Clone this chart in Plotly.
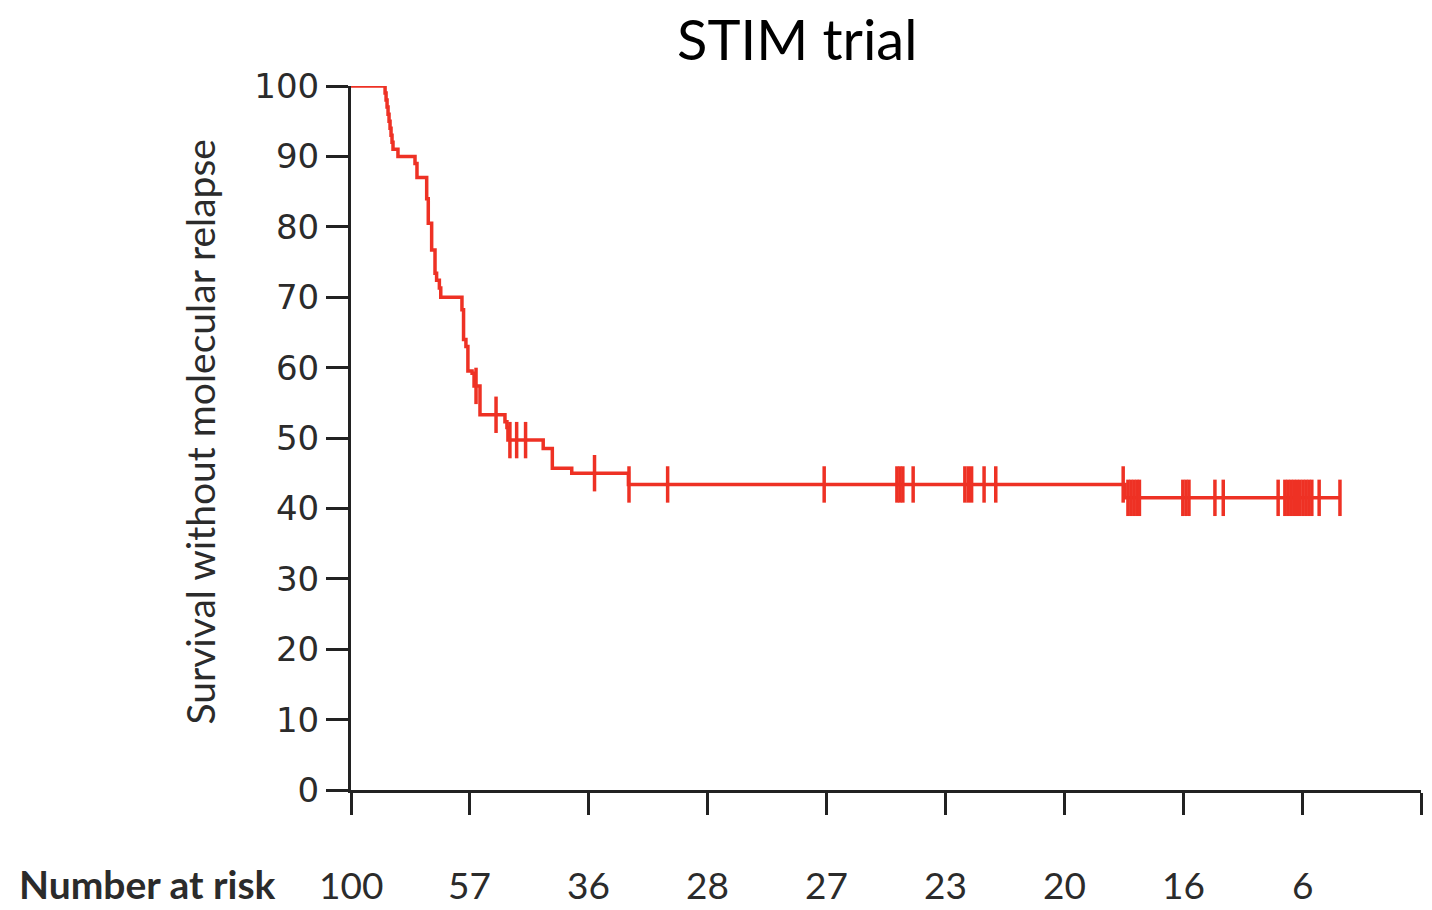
import numpy as np
import plotly.graph_objects as go

# Kaplan-Meier steps: month of each drop and survival (%) right after it
event_months = [1.72, 1.77, 1.82, 1.87, 1.92, 1.97, 2.02, 2.07, 2.12, 2.37,
                3.23, 3.33, 3.82, 3.90, 4.07, 4.24, 4.32, 4.46, 4.53,
                5.60, 5.68, 5.80, 5.90, 6.11, 6.21, 6.51,
                7.77, 7.87, 7.92, 9.70, 10.16, 11.14, 14.00, 39.06]
event_surv = [99, 98, 97, 96, 95, 94, 93, 92, 91, 90,
              89, 87, 84, 80.5, 76.7, 73.4, 72.4, 71.3, 70,
              68.2, 64, 63, 59.5, 59.2, 57.4, 53.3,
              52.3, 51.5, 49.7, 48.5, 45.7, 45.0, 43.4, 41.5]
last_followup = 49.91

# Censored observations (months)
censor_months = [6.31, 7.32, 8.02, 8.36, 8.81, 12.29, 14.03, 15.98, 23.88,
                 27.55, 27.70, 27.85, 28.37, 30.98, 31.15, 31.32, 31.95, 32.54,
                 38.97, 39.21, 39.36, 39.51, 39.66, 39.79,
                 41.98, 42.14, 42.29, 43.60, 44.02, 46.79,
                 47.13, 47.28, 47.43, 47.58, 47.73, 47.88, 48.04, 48.19, 48.34, 48.49,
                 48.86, 49.91]

# Number at risk every 6 months
risk_months = [0, 6, 12, 18, 24, 30, 36, 42, 48]
risk_counts = [100, 57, 36, 28, 27, 23, 20, 16, 6]
x_ticks = list(range(0, 55, 6))
y_ticks = list(range(0, 101, 10))

RED = "#EE3124"
AXIS = "#222222"

step_x = [0] + event_months + [last_followup]
step_y = [100] + event_surv + [event_surv[-1]]

# survival level at each censoring time (value of the step function)
ev_t = np.array(event_months)
ev_s = np.array(event_surv)
idx = np.searchsorted(ev_t, np.array(censor_months), side="right") - 1
censor_surv = np.where(idx >= 0, ev_s[np.clip(idx, 0, None)], 100.0)

fig = go.Figure()
fig.add_trace(go.Scatter(
    x=step_x, y=step_y, mode="lines", line=dict(color=RED, width=3.5, shape="hv"),
    cliponaxis=False, showlegend=False, hoverinfo="skip"))
fig.add_trace(go.Scatter(
    x=censor_months, y=censor_surv, mode="markers",
    marker=dict(symbol="line-ns", size=26, line=dict(color=RED, width=3.5)),
    cliponaxis=False, showlegend=False))

fig.update_xaxes(range=[0, 54], tickvals=x_ticks, showticklabels=False,
                 ticks="outside", ticklen=22, tickwidth=3, tickcolor=AXIS,
                 showline=True, linewidth=3, linecolor=AXIS, showgrid=False,
                 zeroline=False)
fig.update_yaxes(range=[0, 100], tickvals=y_ticks,
                 ticks="outside", ticklen=22, tickwidth=3, tickcolor=AXIS,
                 ticklabelstandoff=0,
                 tickfont=dict(family="DejaVu Sans", size=34, color="#2b2b2b"),
                 showline=True, linewidth=3, linecolor=AXIS, showgrid=False,
                 zeroline=False)

ROW_Y = -0.134
annotations = [
    dict(text="STIM trial", x=0.417, y=1.068, xref="paper", yref="paper",
         showarrow=False, font=dict(family="Lato", size=56, color="black"),
         xanchor="center", yanchor="middle", borderpad=0),
    dict(text="Survival without molecular relapse", x=-0.141, y=0.508,
         xref="paper", yref="paper", textangle=-90, showarrow=False,
         font=dict(family="Lato", size=39, color="#2b2b2b"),
         xanchor="center", yanchor="middle"),
    dict(text="<b>Number at risk</b>", x=-0.311, y=ROW_Y, xref="paper",
         yref="paper", showarrow=False, xanchor="left", yanchor="middle",
         font=dict(family="Lato", size=39, color="#2b2b2b"), borderpad=0),
]
for m, n in zip(risk_months, risk_counts):
    annotations.append(dict(text=str(n), x=m, y=ROW_Y, xref="x", yref="paper",
                            showarrow=False, xanchor="center", yanchor="middle",
                            font=dict(family="Lato", size=37, color="#2b2b2b"),
                            borderpad=0))

fig.update_layout(width=1432, height=910, autosize=False,
                  margin=dict(l=351, r=11, t=86, b=120),
                  plot_bgcolor="white", paper_bgcolor="white",
                  annotations=annotations)

fig.write_html("out.html")
